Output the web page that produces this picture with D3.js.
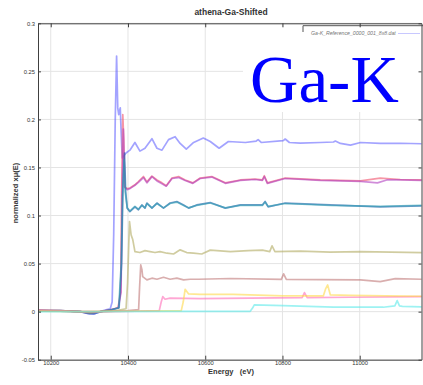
<!DOCTYPE html>
<html>
<head>
<meta charset="utf-8">
<script src="https://cdn.jsdelivr.net/npm/d3@7"></script>
<style>
  html, body { margin: 0; padding: 0; background: #fff; }
  svg { display: block; }
</style>
</head>
<body>
<svg id="chart" width="423" height="385"></svg>
<script>
// ---- data: normalized absorption vs energy (eV), one array per spectrum ----
const title = "athena-Ga-Shifted";
const xLabel = "Energy   (eV)";
const yLabel = "normalized x\u03BC(E)";
const xTicks = [10200, 10400, 10600, 10800, 11000];
const xTickLabels = ["10200", "10400", "10600", "10800", "11000"];
const yTicks = [-0.05, 0, 0.05, 0.1, 0.15, 0.2, 0.25, 0.3];
const yTickLabels = ["-0.05", "0", "0.05", "0.1", "0.15", "0.2", "0.25", "0.3"];
const legendLabel = "Ga-K_Reference_0000_001_8x8.dat";
const annotation = "Ga-K";

const lavender = [
  [10167,0.001],[10224,0.001],[10276,0.000],[10297,-0.002],[10312,-0.0025],[10328,0.000],
  [10343,0.002],[10354,0.003],[10359,0.010],[10363,0.08],[10367,0.20],[10370.5,0.266],
  [10373.5,0.212],[10376,0.205],[10380,0.212],[10382,0.19],[10385,0.16],[10389,0.162],
  [10395,0.165],[10405,0.168],[10418,0.176],[10431,0.167],[10444,0.170],[10462,0.180],
  [10475,0.170],[10488,0.168],[10505,0.179],[10522,0.182],[10535,0.175],[10551,0.169],
  [10570,0.176],[10595,0.1806],[10613,0.177],[10636,0.170],[10660,0.177],[10704,0.176],
  [10732,0.1775],[10737,0.179],[10745,0.176],[10802,0.178],[10807,0.1796],[10818,0.176],
  [10846,0.1754],[10898,0.176],[10932,0.1765],[10937,0.1775],[10950,0.175],[10976,0.1733],
  [11002,0.176],[11053,0.175],[11105,0.1752],[11160,0.1747]
];
const red = [
  [10167,0.0015],[10224,0.001],[10276,0.000],[10302,-0.0015],[10328,0.000],[10354,0.002],
  [10374,0.004],[10381,0.02],[10383.5,0.12],[10386.5,0.205],[10389,0.18],[10391,0.13],
  [10398,0.128],[10405,0.1286],[10418,0.132],[10427,0.1354],[10440,0.1406],[10449,0.135],
  [10462,0.141],[10475,0.137],[10488,0.134],[10499,0.131],[10514,0.139],[10531,0.1406],
  [10548,0.137],[10568,0.134],[10587,0.139],[10617,0.1406],[10652,0.134],[10691,0.137],
  [10729,0.138],[10748,0.137],[10753,0.1414],[10761,0.134],[10807,0.139],[10898,0.137],
  [11002,0.136],[11053,0.139],[11105,0.1375],[11160,0.137]
];
const magenta = [
  [10167,0.001],[10224,0.0005],[10276,0.000],[10302,-0.001],[10328,0.000],[10354,0.0015],
  [10375,0.004],[10382,0.02],[10385,0.12],[10388,0.19],[10390,0.16],[10392,0.129],
  [10398,0.127],[10405,0.128],[10418,0.1315],[10427,0.1345],[10440,0.1395],[10449,0.134],
  [10462,0.1405],[10475,0.136],[10488,0.133],[10499,0.1305],[10514,0.1385],[10531,0.1395],
  [10548,0.1365],[10568,0.1335],[10587,0.1385],[10617,0.14],[10652,0.1335],[10691,0.1365],
  [10729,0.1375],[10748,0.1365],[10753,0.1405],[10761,0.1335],[10807,0.1385],[10898,0.1365],
  [11002,0.1355],[11046,0.134],[11070,0.137],[11105,0.137],[11160,0.1365]
];
const blue = [
  [10167,0.001],[10224,0.001],[10276,0.000],[10300,-0.002],[10315,-0.002],[10330,0.000],
  [10355,0.002],[10377,0.004],[10383.5,0.05],[10387,0.13],[10391,0.165],[10394,0.125],
  [10398,0.1077],[10405,0.104],[10418,0.109],[10427,0.106],[10436,0.111],[10444,0.1077],
  [10449,0.113],[10462,0.1077],[10475,0.113],[10492,0.1077],[10509,0.113],[10526.5,0.1146],
  [10544,0.111],[10557,0.1077],[10578,0.111],[10613,0.1135],[10652,0.1077],[10691,0.111],
  [10748,0.111],[10755,0.1146],[10763,0.109],[10807,0.113],[10924,0.111],[11053,0.109],
  [11160,0.110]
];
const teal = [
  [10167,0.0005],[10224,0.0005],[10276,0.000],[10302,-0.001],[10328,0.000],[10355,0.0015],
  [10376,0.004],[10382.5,0.05],[10386,0.12],[10390,0.158],[10393,0.124],[10398,0.108],
  [10405,0.1045],[10418,0.1095],[10427,0.1065],[10436,0.1105],[10444,0.108],[10449,0.1125],
  [10462,0.108],[10475,0.1125],[10492,0.108],[10509,0.1125],[10526.5,0.114],[10544,0.1105],
  [10557,0.108],[10578,0.1105],[10613,0.113],[10652,0.108],[10691,0.1105],[10748,0.1105],
  [10755,0.114],[10763,0.1095],[10807,0.1125],[10924,0.1105],[11053,0.1095],[11160,0.1105]
];
const olive = [
  [10167,0.001],[10224,0.001],[10276,0.000],[10302,-0.001],[10328,0.000],[10370,0.001],
  [10395,0.003],[10399,0.03],[10402,0.07],[10404,0.0938],[10408,0.080],[10412.5,0.0747],
  [10418,0.0625],[10431,0.0615],[10444,0.0635],[10457,0.0625],[10470,0.0615],[10483,0.0625],
  [10501,0.0608],[10518,0.060],[10535,0.0643],[10552,0.0615],[10569.5,0.0608],[10591,0.060],
  [10613,0.064],[10665,0.0625],[10711,0.0635],[10748,0.064],[10767,0.0625],[10773,0.0684],
  [10780.5,0.0625],[10846,0.063],[10924,0.062],[11002,0.0625],[11160,0.0615]
];
const rosy = [
  [10167,0.001],[10224,0.0005],[10276,0.000],[10330,0.000],[10400,0.001],[10427.5,0.002],
  [10430,0.025],[10433,0.0486],[10436,0.044],[10438,0.0365],[10449,0.033],[10462,0.0348],
  [10475,0.0337],[10492,0.0358],[10509,0.0337],[10526.5,0.0348],[10544,0.033],[10561,0.0337],
  [10582.5,0.0337],[10665,0.0345],[10797,0.0335],[10803,0.0393],[10810,0.0335],[10898,0.0333],
  [11002,0.033],[11053,0.0313],[11092,0.0343],[11160,0.0337]
];
const pink = [
  [10167,0.0012],[10224,0.0008],[10276,0.000],[10350,0.000],[10420,0.0005],[10481,0.001],
  [10486,0.010],[10490,0.0156],[10496,0.0129],[10509,0.014],[10587,0.0135],[10716.5,0.014],
  [10851,0.0145],[10857,0.0198],[10864,0.0145],[10976,0.015],[11160,0.0156]
];
const yellow = [
  [10167,0.0005],[10276,0.000],[10400,0.0005],[10538,0.001],[10543,0.010],[10548,0.0233],
  [10557,0.0184],[10587,0.018],[10672.5,0.018],[10802,0.0164],[10906,0.0165],[10912,0.024],
  [10917,0.0278],[10924,0.0174],[10976,0.017],[11160,0.016]
];
const cyan = [
  [10167,0.000],[10300,0.000],[10500,0.0002],[10716.5,0.0003],[10723,0.004],[10727,0.007],
  [10802,0.0063],[10932,0.0046],[11061,0.0046],[11091,0.006],[11097,0.0115],[11103,0.006],
  [11110.5,0.0055],[11160,0.005]
];

const seriesList = [lavender, red, magenta, blue, teal, olive, rosy, pink, yellow, cyan];
const seriesColors = ["#4848ff", "#f0506a", "#b040c0", "#1f5aa8", "#2ea0b4",
                      "#b0aa60", "#c07878", "#ff6cb8", "#ffd84a", "#5ceaea"];

const sansFont = "'Liberation Sans', Arial, sans-serif";
const serifFont = "'Liberation Serif', 'Times New Roman', serif";

// ---- layout ----
const svg = d3.select("#chart");
const plot = { left: 38, right: 421.5, top: 23.3, bottom: 359.7 };

const x = d3.scaleLinear().domain([10167, 11160]).range([plot.left, plot.right]);
const y = d3.scaleLinear().domain([-0.05, 0.3]).range([plot.bottom, plot.top]);

// grid
const grid = svg.append("g");
grid.selectAll("line.gx").data(xTicks).join("line")
  .attr("x1", d => x(d)).attr("x2", d => x(d))
  .attr("y1", plot.top).attr("y2", plot.bottom)
  .attr("stroke", "#e4e4e4").attr("stroke-width", 1);
grid.selectAll("line.gy").data(yTicks).join("line")
  .attr("x1", plot.left).attr("x2", plot.right)
  .attr("y1", d => y(d)).attr("y2", d => y(d))
  .attr("stroke", "#e4e4e4").attr("stroke-width", 1);

// spectra
const line = d3.line().x(d => x(d[0])).y(d => y(d[1]));
svg.append("g").selectAll("path").data(seriesList).join("path")
  .attr("d", line)
  .attr("fill", "none")
  .attr("stroke", (d, i) => seriesColors[i])
  .attr("stroke-opacity", (d, i) => i === 0 ? 0.5 : 0.6)
  .attr("stroke-width", 1.7)
  .attr("stroke-linejoin", "round");

// white panel behind the edge label, with the legend peeking out
svg.append("rect").attr("x", 243).attr("y", 27).attr("width", 180).attr("height", 85)
  .attr("fill", "#fff");
svg.append("path").attr("d", "M303,32V25.7H423")
  .attr("fill", "none").attr("stroke", "#555").attr("stroke-width", 1);
svg.append("text").attr("x", 311).attr("y", 35.2).text(legendLabel)
  .style("font-family", sansFont)
  .attr("font-size", 5.2).attr("fill", "#777").attr("font-style", "italic");
svg.append("line").attr("x1", 398).attr("x2", 420).attr("y1", 33.5).attr("y2", 33.5)
  .attr("stroke", seriesColors[0]).attr("stroke-opacity", 0.3).attr("stroke-width", 1);
svg.append("text").attr("x", 250).attr("y", 101.5).text(annotation)
  .style("font-family", serifFont)
  .attr("font-size", 67).attr("fill", "#0000ff");

// axes (box with inward ticks)
const axisColor = "#404040";
const xb = d3.axisBottom(x).tickValues(xTicks).tickFormat((d, i) => xTickLabels[i]).tickSizeInner(-4).tickSizeOuter(0).tickPadding(1);
const xt = d3.axisTop(x).tickValues(xTicks).tickFormat("").tickSizeInner(-4).tickSizeOuter(0);
const yl = d3.axisLeft(y).tickValues(yTicks).tickFormat((d, i) => yTickLabels[i]).tickSizeInner(-3).tickSizeOuter(0).tickPadding(3);
const yr = d3.axisRight(y).tickValues(yTicks).tickFormat("").tickSizeInner(-3).tickSizeOuter(0);

function style(g) {
  g.select(".domain").attr("stroke", axisColor).attr("stroke-width", 1);
  g.selectAll(".tick line").attr("stroke", axisColor);
  g.selectAll(".tick text").attr("fill", "#333").attr("font-size", 5.8)
    .style("font-family", sansFont);
}
svg.append("g").attr("transform", `translate(0,${plot.bottom})`).call(xb).call(style);
svg.append("g").attr("transform", `translate(0,${plot.top})`).call(xt).call(style);
svg.append("g").attr("transform", `translate(${plot.left},0)`).call(yl).call(style);
svg.append("g").attr("transform", `translate(${plot.right},0)`).call(yr).call(style);

// titles
svg.append("text").attr("x", 231).attr("y", 15).attr("text-anchor", "middle")
  .style("font-family", sansFont)
  .attr("font-size", 8.5).attr("font-weight", "bold").attr("fill", "#333").text(title);
svg.append("text").attr("x", 231).attr("y", 373.5).attr("text-anchor", "middle")
  .style("font-family", sansFont).style("white-space", "pre")
  .attr("font-size", 7.5).attr("font-weight", "bold").attr("fill", "#333").text(xLabel);
svg.append("text").attr("transform", "translate(18,193) rotate(-90)").attr("text-anchor", "middle")
  .style("font-family", sansFont)
  .attr("font-size", 7.5).attr("font-weight", "bold").attr("fill", "#333").text(yLabel);
</script>
</body>
</html>
